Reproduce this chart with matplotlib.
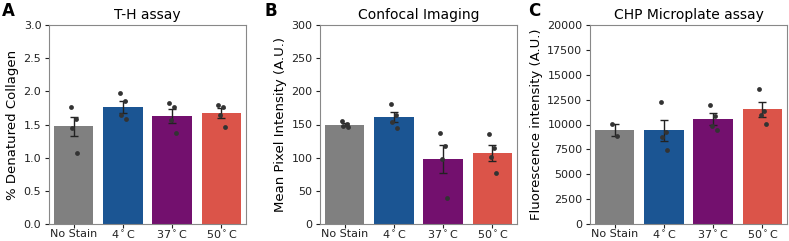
import numpy as np
import matplotlib
matplotlib.use("Agg")
import matplotlib.pyplot as plt

categories = ["No Stain", "4$^\\circ$C", "37$^\\circ$C", "50$^\\circ$C"]
colors = ["#808080", "#1b5593", "#73106e", "#db5449"]

th_values = [
    [1.77, 1.59, 1.45, 1.07],
    [1.97, 1.85, 1.65, 1.58],
    [1.83, 1.76, 1.57, 1.37],
    [1.80, 1.77, 1.65, 1.46],
]
confocal_values = [
    [155, 151, 148, 146],
    [181, 164, 154, 145],
    [137, 117, 98, 39],
    [136, 115, 101, 77],
]
chp_values = [
    [10100, 8850],
    [12300, 9200, 8700, 7400],
    [12000, 10900, 9850, 9400],
    [13600, 11400, 11000, 10050],
]

jitter = [-0.06, 0.04, -0.03, 0.07]

panels = [
    ("A", "T-H assay", "% Denatured Collagen", th_values, (0, 3.0), np.arange(0, 3.01, 0.5), "{:.1f}"),
    ("B", "Confocal Imaging", "Mean Pixel Intensity (A.U.)", confocal_values, (0, 300), np.arange(0, 301, 50), "{:.0f}"),
    ("C", "CHP Microplate assay", "Fluorescence intensity (A.U.)", chp_values, (0, 20000), np.arange(0, 20001, 2500), "{:.0f}"),
]

fig = plt.figure(figsize=(7.89, 2.41), dpi=100)
lefts = [49 / 789, 320 / 789, 590 / 789]
letter_x = [2 / 789, 265 / 789, 528 / 789]
width = 197 / 789
bottom = 17 / 241
height = 199 / 241

for (letter, title, ylabel, data, ylim, ticks, fmt), left, lx in zip(panels, lefts, letter_x):
    ax = fig.add_axes([left, bottom, width, height])
    x = np.arange(len(categories))
    means = [np.mean(v) for v in data]
    ses = [np.std(v, ddof=1) / np.sqrt(len(v)) for v in data]
    ax.bar(x, means, width=0.8, color=colors, zorder=1)
    ax.errorbar(x, means, yerr=ses, fmt="none", ecolor="#222222", elinewidth=1.0,
                capsize=3, capthick=1.0, zorder=3)
    for i, vals in enumerate(data):
        xs = [i + jitter[k % len(jitter)] for k in range(len(vals))]
        ax.scatter(xs, vals, s=12, color="#333333", zorder=4, linewidths=0)
    ax.set_xlim(-0.5, 3.5)
    ax.set_ylim(*ylim)
    ax.set_yticks(ticks)
    ax.set_yticklabels([fmt.format(t) for t in ticks])
    ax.set_xticks(x)
    ax.set_xticklabels(categories)
    ax.tick_params(labelsize=8, colors="#222222", length=3)
    ax.tick_params(axis="x", pad=0.5)
    ax.tick_params(axis="y", pad=2.5)
    for s in ax.spines.values():
        s.set_color("#888888")
    ax.set_title(title, fontsize=10, pad=4)
    ax.set_ylabel(ylabel, fontsize=9.5, labelpad=3)
    fig.text(lx, 0.99, letter, fontsize=12, fontweight="bold", va="top", ha="left")

fig.savefig("out.png", dpi=100)
